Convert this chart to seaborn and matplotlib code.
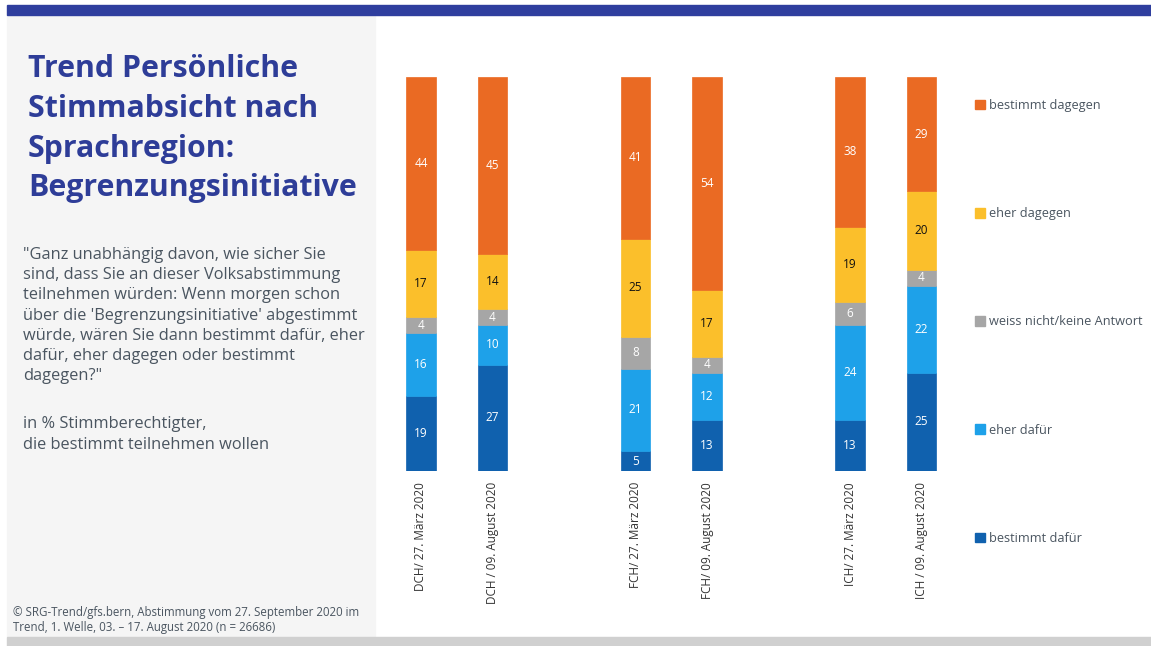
import matplotlib
matplotlib.use("Agg")
import matplotlib.pyplot as plt
from matplotlib.patches import Rectangle, Patch
import numpy as np
import pandas as pd
import seaborn as sns

# ---- data ----
bar_labels = ["DCH/ 27. März 2020", "DCH / 09. August 2020",
              "FCH/ 27. März 2020", "FCH/ 09. August 2020",
              "ICH/ 27. März 2020", "ICH / 09. August 2020"]
groups = ["DCH", "DCH", "FCH", "FCH", "ICH", "ICH"]
categories = ["bestimmt dafür", "eher dafür", "weiss nicht/keine Antwort",
              "eher dagegen", "bestimmt dagegen"]
bestimmt_dafuer = [19, 27, 5, 13, 13, 25]
eher_dafuer = [16, 10, 21, 12, 24, 22]
weiss_nicht = [4, 4, 8, 4, 6, 4]
eher_dagegen = [17, 14, 25, 17, 19, 20]
bestimmt_dagegen = [44, 45, 41, 54, 38, 29]
series = [bestimmt_dafuer, eher_dafuer, weiss_nicht, eher_dagegen, bestimmt_dagegen]

colors = ["#1061AE", "#1EA1E9", "#A6A6A6", "#FBBF2B", "#EA6A23"]
text_colors = ["white", "white", "white", "#111111", "white"]

sns.set_theme(style="white")
plt.rcParams["font.family"] = ["Open Sans", "DejaVu Sans"]

W, H = 1151, 646
fig = plt.figure(figsize=(W / 100, H / 100), dpi=100)

def fx(px):
    return px / W

def fy(py):
    return 1 - py / H

# decorations
fig.patches.append(Rectangle((fx(7), fy(636)), fx(375) - fx(7), fy(15) - fy(636),
                             transform=fig.transFigure, color="#F5F5F5", zorder=0))
fig.patches.append(Rectangle((fx(7), fy(15)), 1 - fx(7), fy(5) - fy(15),
                             transform=fig.transFigure, color="#2F3E9E", zorder=0))
fig.patches.append(Rectangle((fx(7), 0), 1 - fx(7), fy(637),
                             transform=fig.transFigure, color="#D0D0D0", zorder=0))

# positions derived from group structure
grp_index = pd.Series(groups).astype("category").cat.codes.to_numpy()
within = np.array([0, 1, 0, 1, 0, 1])
pos = grp_index * 3 + within

# axes pixel layout: x = 421 + 71.5*pos ; y 471 -> 0, 77 -> 100
ax_left_px, ax_right_px = 380, 960
x0 = (ax_left_px - 421) / 71.5
x1 = (ax_right_px - 421) / 71.5
ax = fig.add_axes([fx(ax_left_px), fy(471), fx(ax_right_px) - fx(ax_left_px), fy(77) - fy(471)])
ax.set_facecolor("none")

bottom = np.zeros(len(pos))
for cat, vals, col, tcol in zip(categories, series, colors, text_colors):
    df = pd.DataFrame({"pos": pos, "val": vals})
    sns.barplot(data=df, x="pos", y="val", native_scale=True, width=0.41,
                color=col, saturation=1, errorbar=None, bottom=bottom,
                edgecolor=col, linewidth=0.5, ax=ax)
    for p, v, b in zip(pos, vals, bottom):
        ax.text(p, b + v / 2, str(v), ha="center", va="center",
                color=tcol, fontsize=8.5)
    bottom = bottom + np.array(vals)

ax.set_xlim(x0, x1)
ax.set_ylim(0, 100)
ax.set_xticks(pos)
ax.set_xticklabels(bar_labels, rotation=90, fontsize=8.5, color="#333333")
ax.tick_params(axis="x", length=0, pad=8)
ax.set_yticks([])
ax.set_xlabel("")
ax.set_ylabel("")
for s in ax.spines.values():
    s.set_visible(False)

# title and texts
fig.text(fx(28), fy(54), "Trend Persönliche\nStimmabsicht nach\nSprachregion:\nBegrenzungsinitiative",
         ha="left", va="top", fontsize=21.8, fontweight="bold", color="#2E3D98",
         linespacing=1.425)
fig.text(fx(23), fy(247), "\"Ganz unabhängig davon, wie sicher Sie\nsind, dass Sie an dieser Volksabstimmung\n"
         "teilnehmen würden: Wenn morgen schon\nüber die 'Begrenzungsinitiative' abgestimmt\n"
         "würde, wären Sie dann bestimmt dafür, eher\ndafür, eher dagegen oder bestimmt\ndagegen?\"",
         ha="left", va="top", fontsize=11.8, color="#4A5560", linespacing=1.35)
fig.text(fx(23), fy(416), "in % Stimmberechtigter,\ndie bestimmt teilnehmen wollen",
         ha="left", va="top", fontsize=11.8, color="#4A5560", linespacing=1.38)
fig.text(fx(13), fy(606), "© SRG-Trend/gfs.bern, Abstimmung vom 27. September 2020 im\n"
         "Trend, 1. Welle, 03. – 17. August 2020 (n = 26686)",
         ha="left", va="top", fontsize=8.3, color="#4A5560", linespacing=1.15)

# legend (top: bestimmt dagegen)
handles = [Patch(facecolor=c, edgecolor=c, label=l) for l, c in zip(categories, colors)][::-1]
fig.legend(handles=handles, loc="upper left", bbox_to_anchor=(fx(975), fy(99)),
           frameon=False, fontsize=9.2, labelcolor="#4A5560",
           handlelength=0.78, handleheight=0.78, handletextpad=0.35,
           labelspacing=7.45, borderaxespad=0, borderpad=0)

fig.savefig("out.png", dpi=100)
